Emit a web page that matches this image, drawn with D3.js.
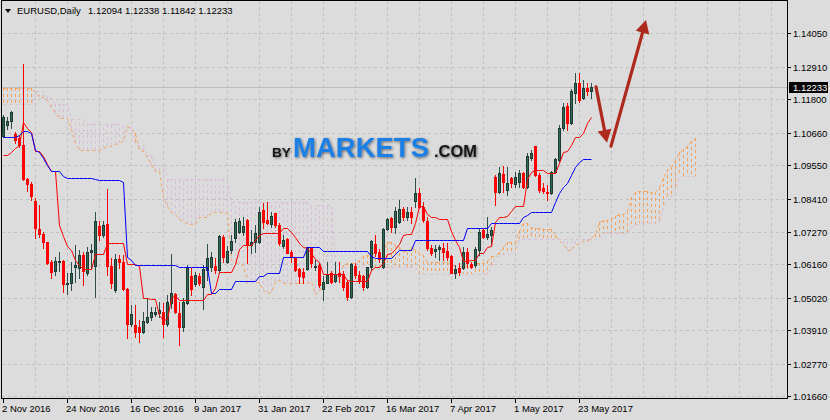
<!DOCTYPE html>
<html><head><meta charset="utf-8">
<script src="https://cdn.jsdelivr.net/npm/d3@7"></script>
<style>
html,body{margin:0;padding:0;background:#dcdcdc;}
svg{display:block;}
text{font-family:"Liberation Sans",Arial,sans-serif;}
</style></head><body>
<svg id="chart" width="830" height="420"></svg>
<script>
// ---------------- DATA ----------------
const symbolName = "EURUSD,Daily";
const headerValues = ["1.12094", "1.12338", "1.11842", "1.12233"];
const dateLabels = ["2 Nov 2016","24 Nov 2016","16 Dec 2016","9 Jan 2017","31 Jan 2017","22 Feb 2017","16 Mar 2017","7 Apr 2017","1 May 2017","23 May 2017"];
const dateLabelBars = [0,16,32,48,64,80,96,112,128,144];
const priceTicks = [1.01660,1.02770,1.03910,1.05020,1.06160,1.07270,1.08410,1.09550,1.10660,1.11800,1.12910,1.14050];
const lastPrice = 1.12233;

const open = [1.1055,1.1092,1.1106,1.1061,1.1047,1.1024,1.0908,1.0890,1.0834,1.0737,1.0719,1.0692,1.0623,1.0592,1.0624,1.0628,1.0549,1.0552,1.0606,1.0603,
1.0648,1.0586,1.0660,1.0612,1.0748,1.0717,1.0753,1.0612,1.0529,1.0635,1.0623,1.0532,1.0412,1.0409,1.0404,1.0384,1.0421,1.0435,1.0446,1.0449,
1.0455,1.0412,1.0483,1.0514,1.0449,1.0404,1.0483,1.0577,1.0549,1.0575,1.0540,1.0597,1.0609,1.0611,1.0597,1.0711,1.0626,1.0665,1.0705,1.0728,
1.0728,1.0768,1.0683,1.0694,1.0694,1.0802,1.0768,1.0754,1.0791,1.0751,1.0679,1.0702,1.0660,1.0637,1.0600,1.0590,1.0600,1.0675,1.0609,1.0614,
1.0531,1.0554,1.0586,1.0561,1.0588,1.0584,1.0557,1.0504,1.0611,1.0580,1.0577,1.0538,1.0606,1.0686,1.0660,1.0609,1.0736,1.0774,1.0743,1.0762,
1.0804,1.0779,1.0796,1.0834,1.0861,1.0813,1.0766,1.0671,1.0663,1.0668,1.0671,1.0663,1.0645,1.0586,1.0603,1.0603,1.0660,1.0618,1.0614,1.0665,
1.0734,1.0709,1.0717,1.0916,1.0865,1.0925,1.0870,1.0910,1.0891,1.0899,1.0929,1.0881,1.0978,1.1020,1.0921,1.0876,1.0865,1.0859,1.0933,1.0973,
1.1081,1.1157,1.1098,1.1200,1.1237,1.1183,1.1217,1.12094];
const high = [1.1126,1.1121,1.1140,1.1069,1.1058,1.1299,1.0910,1.0899,1.0842,1.0819,1.0728,1.0694,1.0631,1.0643,1.0660,1.0630,1.0586,1.0626,1.0683,1.0665,
1.0660,1.0677,1.0685,1.0796,1.0766,1.0766,1.0872,1.0637,1.0651,1.0648,1.0648,1.0535,1.0478,1.0478,1.0427,1.0455,1.0500,1.0472,1.0472,1.0489,
1.0483,1.0512,1.0651,1.0518,1.0489,1.0503,1.0614,1.0603,1.0590,1.0586,1.0614,1.0686,1.0660,1.0637,1.0717,1.0717,1.0679,1.0717,1.0770,1.0774,
1.0779,1.0770,1.0734,1.0751,1.0811,1.0825,1.0828,1.0796,1.0793,1.0757,1.0717,1.0705,1.0665,1.0640,1.0603,1.0603,1.0677,1.0677,1.0631,1.0620,
1.0575,1.0626,1.0592,1.0626,1.0626,1.0592,1.0563,1.0620,1.0620,1.0592,1.0580,1.0609,1.0700,1.0717,1.0668,1.0740,1.0774,1.0779,1.0811,1.0836,
1.0813,1.0813,1.0813,1.0910,1.0876,1.0830,1.0779,1.0682,1.0682,1.0682,1.0690,1.0688,1.0648,1.0614,1.0620,1.0675,1.0671,1.0626,1.0677,1.0739,
1.0739,1.0779,1.0745,1.0921,1.0950,1.0952,1.0947,1.0916,1.0933,1.0938,1.0933,1.0995,1.1007,1.1020,1.0927,1.0893,1.0887,1.0936,1.0978,1.1092,
1.1166,1.1168,1.1214,1.1268,1.1268,1.1246,1.1234,1.12338];
const low = [1.1050,1.1078,1.1081,1.1030,1.1018,1.0904,1.0867,1.0836,1.0708,1.0711,1.0673,1.0617,1.0571,1.0580,1.0594,1.0521,1.0515,1.0529,1.0557,1.0571,
1.0546,1.0580,1.0603,1.0504,1.0700,1.0711,1.0580,1.0535,1.0523,1.0603,1.0530,1.0366,1.0407,1.0370,1.0350,1.0381,1.0415,1.0427,1.0440,1.0438,
1.0370,1.0407,1.0466,1.0449,1.0341,1.0389,1.0480,1.0512,1.0543,1.0546,1.0463,1.0563,1.0592,1.0586,1.0586,1.0626,1.0622,1.0654,1.0694,1.0722,
1.0717,1.0620,1.0654,1.0660,1.0688,1.0740,1.0754,1.0745,1.0745,1.0683,1.0671,1.0654,1.0626,1.0592,1.0552,1.0552,1.0597,1.0609,1.0597,1.0540,
1.0493,1.0552,1.0552,1.0557,1.0557,1.0529,1.0495,1.0501,1.0569,1.0552,1.0529,1.0535,1.0597,1.0645,1.0626,1.0603,1.0734,1.0728,1.0722,1.0757,
1.0768,1.0768,1.0757,1.0813,1.0808,1.0762,1.0665,1.0648,1.0643,1.0631,1.0631,1.0631,1.0586,1.0569,1.0580,1.0599,1.0609,1.0603,1.0609,1.0648,
1.0705,1.0702,1.0682,1.0819,1.0859,1.0865,1.0853,1.0881,1.0881,1.0881,1.0876,1.0876,1.0973,1.0918,1.0865,1.0859,1.0836,1.0857,1.0927,1.0967,
1.1075,1.1075,1.1095,1.1166,1.1172,1.1180,1.1194,1.11842];
const close = [1.1121,1.1106,1.1138,1.1040,1.1024,1.0908,1.0892,1.0851,1.0739,1.0719,1.0692,1.0620,1.0589,1.0628,1.0628,1.0551,1.0554,1.0586,1.0614,1.0648,
1.0592,1.0660,1.0665,1.0764,1.0717,1.0751,1.0612,1.0553,1.0635,1.0623,1.0532,1.0412,1.0446,1.0387,1.0384,1.0423,1.0438,1.0453,1.0453,1.0461,
1.0412,1.0489,1.0518,1.0453,1.0404,1.0489,1.0605,1.0531,1.0580,1.0552,1.0600,1.0637,1.0640,1.0597,1.0713,1.0643,1.0662,1.0697,1.0762,1.0766,
1.0748,1.0683,1.0694,1.0722,1.0796,1.0762,1.0757,1.0783,1.0751,1.0688,1.0700,1.0654,1.0640,1.0597,1.0575,1.0572,1.0675,1.0620,1.0612,1.0546,
1.0557,1.0580,1.0557,1.0584,1.0577,1.0540,1.0506,1.0618,1.0580,1.0563,1.0538,1.0606,1.0697,1.0654,1.0634,1.0736,1.0770,1.0743,1.0800,1.0804,
1.0779,1.0796,1.0779,1.0861,1.0813,1.0768,1.0671,1.0654,1.0670,1.0675,1.0660,1.0643,1.0586,1.0599,1.0591,1.0660,1.0620,1.0609,1.0668,1.0728,
1.0711,1.0720,1.0734,1.0865,1.0927,1.0899,1.0895,1.0895,1.0914,1.0929,1.0881,1.0986,1.0998,1.0921,1.0870,1.0868,1.0859,1.0933,1.0975,1.1081,
1.1155,1.1100,1.1209,1.1237,1.1177,1.1217,1.1209,1.12233];

// Ichimoku: Tenkan-sen (red) and Kijun-sen (blue), one value per bar
const tenkan = [1.0990,1.0990,1.1001,1.1012,1.1024,1.1101,1.1083,1.1067,1.1003,1.1003,1.0986,1.0958,1.0935,1.0935,1.0750,1.0712,1.0679,1.0667,1.0630,1.0615,
1.0600,1.0600,1.0600,1.0650,1.0650,1.0650,1.0688,1.0688,1.0688,1.0688,1.0688,1.0619,1.0619,1.0619,1.0611,1.0500,1.0501,1.0499,1.0499,1.0443,
1.0425,1.0431,1.0501,1.0511,1.0496,1.0496,1.0496,1.0496,1.0496,1.0496,1.0496,1.0514,1.0514,1.0537,1.0590,1.0590,1.0590,1.0590,1.0617,1.0669,
1.0682,1.0682,1.0682,1.0700,1.0716,1.0722,1.0724,1.0724,1.0724,1.0724,1.0741,1.0741,1.0727,1.0710,1.0690,1.0674,1.0673,1.0655,1.0635,1.0623,
1.0585,1.0585,1.0585,1.0585,1.0585,1.0585,1.0562,1.0561,1.0561,1.0561,1.0561,1.0561,1.0598,1.0606,1.0606,1.0621,1.0652,1.0654,1.0670,1.0686,
1.0717,1.0720,1.0720,1.0757,1.0816,1.0816,1.0788,1.0779,1.0777,1.0771,1.0771,1.0771,1.0731,1.0700,1.0674,1.0628,1.0628,1.0630,1.0630,1.0654,
1.0654,1.0674,1.0680,1.0760,1.0777,1.0778,1.0780,1.0800,1.0817,1.0817,1.0817,1.0907,1.0930,1.0937,1.0937,1.0940,1.0928,1.0928,1.0928,1.0964,
1.1001,1.1002,1.1025,1.1052,1.1052,1.1063,1.1098,1.1118];
const kijun = [1.1052,1.1052,1.1052,1.1052,1.1058,1.1072,1.1072,1.1064,1.1007,1.1001,1.0978,1.0956,1.0935,1.0935,1.0935,1.0919,1.0910,1.0910,1.0910,1.0910,
1.0910,1.0910,1.0910,1.0907,1.0904,1.0904,1.0904,1.0904,1.0904,1.0904,1.0899,1.0640,1.0630,1.0614,1.0614,1.0614,1.0614,1.0614,1.0614,1.0614,
1.0614,1.0614,1.0614,1.0614,1.0608,1.0608,1.0608,1.0608,1.0608,1.0608,1.0608,1.0608,1.0517,1.0517,1.0532,1.0532,1.0532,1.0532,1.0559,1.0559,
1.0559,1.0559,1.0559,1.0559,1.0575,1.0575,1.0586,1.0586,1.0586,1.0586,1.0640,1.0640,1.0640,1.0640,1.0640,1.0640,1.0675,1.0675,1.0675,1.0675,
1.0663,1.0663,1.0663,1.0663,1.0663,1.0663,1.0663,1.0663,1.0663,1.0663,1.0663,1.0663,1.0645,1.0637,1.0637,1.0637,1.0637,1.0637,1.0650,1.0665,
1.0665,1.0665,1.0665,1.0700,1.0700,1.0700,1.0700,1.0700,1.0700,1.0700,1.0700,1.0700,1.0700,1.0700,1.0700,1.0700,1.0739,1.0739,1.0739,1.0739,
1.0739,1.0739,1.0759,1.0759,1.0759,1.0759,1.0759,1.0759,1.0759,1.0759,1.0779,1.0785,1.0796,1.0796,1.0796,1.0796,1.0796,1.0796,1.0830,1.0859,
1.0881,1.0893,1.0921,1.0950,1.0967,1.0975,1.0975,1.0975];
// Senkou Span A / B (cloud), shifted 26 bars forward: 174 values
const spanA = [1.1218,1.1218,1.1218,1.1218,1.1218,1.1218,1.1218,1.1218,1.1204,1.1189,1.1189,1.1178,1.1155,1.1132,1.1115,1.1115,1.1115,1.1080,1.1030,1.1007,
1.1007,1.1007,1.1007,1.1007,1.1007,1.1012,1.1021,1.1021,1.1027,1.1032,1.1041,1.1087,1.1078,1.1066,1.1005,1.1002,1.0982,1.0957,1.0935,1.0935,
1.0845,1.0816,1.0795,1.0789,1.0770,1.0765,1.0755,1.0755,1.0755,1.0779,1.0777,1.0777,1.0796,1.0796,1.0796,1.0796,1.0792,1.0632,1.0625,1.0617,
1.0613,1.0554,1.0558,1.0557,1.0557,1.0529,1.0520,1.0523,1.0558,1.0563,1.0552,1.0552,1.0552,1.0552,1.0552,1.0552,1.0552,1.0560,1.0516,1.0527,
1.0561,1.0561,1.0561,1.0561,1.0588,1.0614,1.0621,1.0621,1.0621,1.0630,1.0646,1.0649,1.0655,1.0655,1.0655,1.0655,1.0691,1.0691,1.0684,1.0675,
1.0665,1.0657,1.0674,1.0665,1.0655,1.0649,1.0624,1.0624,1.0624,1.0624,1.0624,1.0624,1.0613,1.0612,1.0612,1.0612,1.0612,1.0612,1.0622,1.0622,
1.0622,1.0629,1.0645,1.0646,1.0660,1.0676,1.0691,1.0693,1.0693,1.0729,1.0758,1.0758,1.0744,1.0740,1.0739,1.0736,1.0736,1.0736,1.0716,1.0700,
1.0687,1.0664,1.0664,1.0685,1.0685,1.0697,1.0697,1.0707,1.0720,1.0760,1.0768,1.0769,1.0770,1.0780,1.0788,1.0788,1.0798,1.0846,1.0863,1.0867,
1.0867,1.0868,1.0862,1.0862,1.0879,1.0912,1.0941,1.0948,1.0973,1.1001,1.1010,1.1019,1.1037,1.1047];
const spanB = [1.1163,1.1163,1.1163,1.1163,1.1163,1.1163,1.1163,1.1163,1.1208,1.1208,1.1208,1.1183,1.1183,1.1163,1.1163,1.1163,1.1163,1.1113,1.1113,1.1113,
1.1113,1.1094,1.1094,1.1094,1.1094,1.1094,1.1094,1.1094,1.1094,1.1094,1.1086,1.1086,1.1086,1.1024,1.1024,1.1024,1.0990,1.0990,1.0956,1.0956,
1.0956,1.0908,1.0908,1.0908,1.0908,1.0908,1.0908,1.0908,1.0908,1.0908,1.0908,1.0908,1.0908,1.0908,1.0908,1.0908,1.0908,1.0830,1.0830,1.0830,
1.0830,1.0830,1.0830,1.0830,1.0830,1.0830,1.0830,1.0830,1.0830,1.0830,1.0830,1.0830,1.0830,1.0830,1.0830,1.0830,1.0830,1.0820,1.0820,1.0820,
1.0820,1.0820,1.0820,1.0625,1.0620,1.0607,1.0607,1.0607,1.0607,1.0607,1.0607,1.0607,1.0607,1.0607,1.0607,1.0607,1.0607,1.0607,1.0607,1.0607,
1.0607,1.0607,1.0607,1.0607,1.0585,1.0585,1.0585,1.0585,1.0585,1.0585,1.0585,1.0585,1.0585,1.0585,1.0585,1.0585,1.0585,1.0585,1.0585,1.0585,
1.0585,1.0585,1.0609,1.0646,1.0646,1.0650,1.0650,1.0650,1.0665,1.0702,1.0702,1.0702,1.0702,1.0702,1.0702,1.0702,1.0702,1.0702,1.0702,1.0702,
1.0702,1.0702,1.0702,1.0702,1.0702,1.0702,1.0702,1.0702,1.0702,1.0707,1.0722,1.0723,1.0723,1.0723,1.0723,1.0723,1.0723,1.0744,1.0751,1.0758,
1.0758,1.0758,1.0758,1.0758,1.0761,1.0811,1.0848,1.0849,1.0875,1.0919,1.0919,1.0919,1.0919,1.0919];
// hand-drawn forecast arrows: [bar, price] start and tip
const arrowDown = [[148.25, 1.1222], [151, 1.1031]];
const arrowUp = [[152, 1.1020], [160.75, 1.1450]];

// ---------------- CHART ----------------
const svg = d3.select("#chart");
const W = 830, H = 420;
const plotL = 1.5, plotT = 0.5, plotR = 787.5, plotB = 398.5;
svg.append("rect").attr("width", W).attr("height", H).attr("fill", "#dcdcdc");

const x = d3.scaleLinear().domain([0, 196]).range([3, 787]);
const y = d3.scaleLinear().domain([1.0166, 1.1405]).range([396.3, 33.3]);
const Y = v => Math.round(y(v));

const defs = svg.append("defs");
defs.append("clipPath").attr("id", "plotclip").append("rect")
  .attr("x", 2).attr("y", 1).attr("width", 785).attr("height", 397);
const sh = defs.append("filter").attr("id", "logoShadow").attr("x", "-10%").attr("y", "-30%").attr("width", "120%").attr("height", "160%");
sh.append("feGaussianBlur").attr("in", "SourceAlpha").attr("stdDeviation", 1.6).attr("result", "b");
sh.append("feOffset").attr("in", "b").attr("dx", 1).attr("dy", 1).attr("result", "o");
sh.append("feComponentTransfer").attr("in", "o").attr("result", "s")
  .append("feFuncA").attr("type", "linear").attr("slope", 0.55);
const mg = sh.append("feMerge");
mg.append("feMergeNode").attr("in", "s");
mg.append("feMergeNode").attr("in", "SourceGraphic");

const plot = svg.append("g").attr("clip-path", "url(#plotclip)");

// grid
const gridColor = "#c2c2c2";
plot.append("g").selectAll("line").data(priceTicks).join("line")
  .attr("x1", 2).attr("x2", 787)
  .attr("y1", d => Y(d) + 0.5).attr("y2", d => Y(d) + 0.5)
  .attr("stroke", gridColor).attr("stroke-dasharray", "3,3").attr("shape-rendering", "crispEdges");
const vGrid = d3.range(8, 196, 8);
plot.append("g").selectAll("line").data(vGrid).join("line")
  .attr("x1", d => x(d) + 0.5).attr("x2", d => x(d) + 0.5)
  .attr("y1", 1).attr("y2", 398)
  .attr("stroke", gridColor).attr("stroke-dasharray", "3,3").attr("shape-rendering", "crispEdges");

// current price line
plot.append("line").attr("x1", 2).attr("x2", 787)
  .attr("y1", Y(lastPrice) + 0.5).attr("y2", Y(lastPrice) + 0.5)
  .attr("stroke", "#bdbdbd").attr("shape-rendering", "crispEdges");

// cloud hatch
const sandy = "#f4a460", thistle = "#d8bfd8";
const cloudIdx = d3.range(spanA.length);
plot.append("g").selectAll("line").data(cloudIdx).join("line")
  .attr("x1", i => x(i) + 0.5).attr("x2", i => x(i) + 0.5)
  .attr("y1", i => Y(spanA[i])).attr("y2", i => Y(spanB[i]))
  .attr("stroke", i => spanA[i] >= spanB[i] ? sandy : thistle)
  .attr("stroke-dasharray", "3,3").attr("shape-rendering", "crispEdges");
const lineGen = arr => d3.line().x((d, i) => x(i) + 0.5).y(d => Y(d) + 0.5)(arr);
plot.append("path").attr("d", lineGen(spanB)).attr("fill", "none")
  .attr("stroke", thistle).attr("stroke-dasharray", "3,3");
plot.append("path").attr("d", lineGen(spanA)).attr("fill", "none")
  .attr("stroke", sandy).attr("stroke-dasharray", "3,3");

// candles
const bars = d3.range(open.length);
const bullWick = "#2f4f4f", bullFill = "#2e6a54", bullEdge = "#1e3a32", bear = "#ff0000";
const cg = plot.append("g").attr("shape-rendering", "crispEdges");
cg.selectAll("rect.wick").data(bars).join("rect").attr("class", "wick")
  .attr("x", i => x(i)).attr("width", 1)
  .attr("y", i => Y(high[i])).attr("height", i => Y(low[i]) - Y(high[i]) + 1)
  .attr("fill", i => close[i] >= open[i] ? bullWick : bear);
cg.selectAll("rect.body").data(bars).join("rect").attr("class", "body")
  .attr("x", i => x(i) - 1).attr("width", 3)
  .attr("y", i => Y(Math.max(open[i], close[i])))
  .attr("height", i => Math.max(1, Y(Math.min(open[i], close[i])) - Y(Math.max(open[i], close[i])) + 1))
  .attr("fill", i => close[i] >= open[i] ? bullEdge : bear);
cg.selectAll("rect.inner").data(bars.filter(i => close[i] >= open[i] && Y(open[i]) - Y(close[i]) >= 2)).join("rect").attr("class", "inner")
  .attr("x", i => x(i)).attr("width", 1)
  .attr("y", i => Y(close[i]) + 1)
  .attr("height", i => Y(open[i]) - Y(close[i]) - 1)
  .attr("fill", bullFill);

// tenkan / kijun
plot.append("path").attr("d", lineGen(tenkan)).attr("fill", "none").attr("stroke", "#ff0000").attr("stroke-width", 1);
plot.append("path").attr("d", lineGen(kijun)).attr("fill", "none").attr("stroke", "#0000ff").attr("stroke-width", 1);

// logo: each part sized so its natural width fits its slot
const logoParts = [
  {t: "BY", x: 272, w: 19, size: 16.5, fill: "#141414"},
  {t: "MARKETS", x: 293, w: 136, size: 30.5, fill: "#1f7fe6"},
  {t: ".COM", x: 434, w: 43, size: 16.5, fill: "#141414"}
];
const logo = svg.append("g").attr("filter", "url(#logoShadow)");
logoParts.forEach(p => {
  const t = logo.append("text").attr("x", p.x).attr("y", 157)
    .attr("font-family", "Lato, 'Open Sans', sans-serif").attr("font-weight", 700)
    .attr("font-size", p.size).attr("fill", p.fill).text(p.t);
  const len = t.node().getComputedTextLength();
  if (len > 0) t.attr("font-size", p.size * p.w / len);
});

// arrows
const arrowColor = "#ad2a1f";
function drawArrow(seg) {
  const x0 = x(seg[0][0]), y0 = y(seg[0][1]), x1 = x(seg[1][0]), y1 = y(seg[1][1]);
  const ang = Math.atan2(y1 - y0, x1 - x0), hl = 13, hw = 7;
  const bx = x1 - hl * Math.cos(ang), by = y1 - hl * Math.sin(ang);
  const px = -Math.sin(ang), py = Math.cos(ang);
  plot.append("line").attr("x1", x0).attr("y1", y0).attr("x2", bx + 2 * Math.cos(ang)).attr("y2", by + 2 * Math.sin(ang))
    .attr("stroke", arrowColor).attr("stroke-width", 3.2).attr("stroke-linecap", "round");
  plot.append("polygon").attr("points", [[x1, y1], [bx + hw * px, by + hw * py], [bx - hw * px, by - hw * py]].map(p => p.join(",")).join(" "))
    .attr("fill", arrowColor);
}
drawArrow(arrowDown);
drawArrow(arrowUp);

// frame
svg.append("path").attr("d", `M${plotL},${plotB}V${plotT}H${plotR}V${plotB}H${plotL}`)
  .attr("fill", "none").attr("stroke", "#000").attr("shape-rendering", "crispEdges");

// right axis
const ax = svg.append("g").attr("font-size", 9.5).attr("fill", "#000");
ax.selectAll("line").data(priceTicks).join("line")
  .attr("x1", 788).attr("x2", 791).attr("y1", d => Y(d) + 0.5).attr("y2", d => Y(d) + 0.5)
  .attr("stroke", "#000").attr("shape-rendering", "crispEdges");
ax.selectAll("text").data(priceTicks).join("text")
  .attr("x", 793).attr("y", d => Y(d) + 4).text(d => d.toFixed(5));
// last price box
svg.append("rect").attr("x", 789).attr("y", Y(lastPrice) - 5).attr("width", 39).attr("height", 11).attr("fill", "#000");
svg.append("text").attr("x", 793).attr("y", Y(lastPrice) + 4).attr("font-size", 9.5).attr("fill", "#fff").text(lastPrice.toFixed(5));

// bottom axis
const bx = svg.append("g").attr("font-size", 9.5).attr("fill", "#000");
bx.selectAll("line").data(dateLabelBars).join("line")
  .attr("x1", d => x(d) + 0.5).attr("x2", d => x(d) + 0.5).attr("y1", 399).attr("y2", 403)
  .attr("stroke", "#000").attr("shape-rendering", "crispEdges");
bx.selectAll("text").data(dateLabels).join("text")
  .attr("x", (d, i) => x(dateLabelBars[i]) - 1).attr("y", 412).text(d => d);

// header
svg.append("polygon").attr("points", "5,9 11,9 8,13").attr("fill", "#000");
svg.append("text").attr("x", 17).attr("y", 14).attr("font-size", 9.5).text(symbolName);
svg.append("text").attr("x", 88).attr("y", 14).attr("font-size", 9.5).text(headerValues.join(" "));
</script>
</body></html>
